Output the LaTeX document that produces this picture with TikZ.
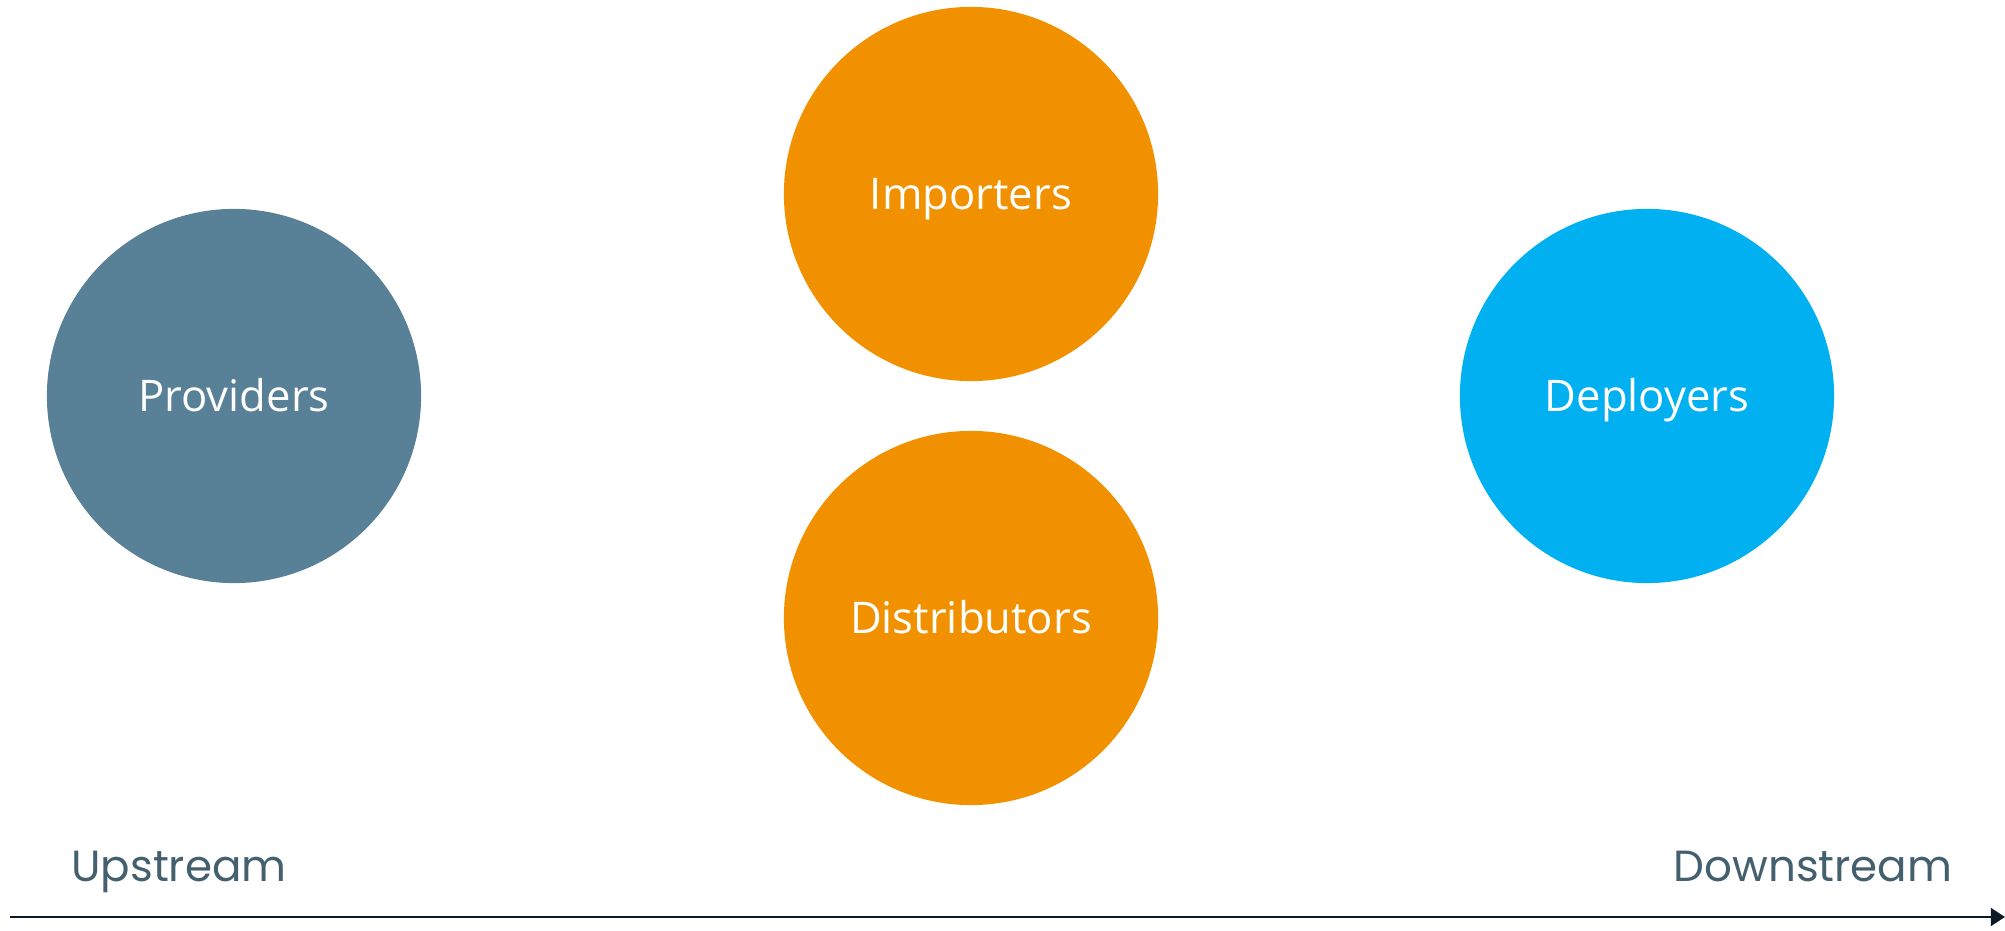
\documentclass[tikz,border=0pt]{standalone}
\usepackage{fontspec}
\setmainfont{Open Sans}
\newfontfamily\flowfont{Poppins}
\usetikzlibrary{arrows.meta}
\definecolor{provblue}{HTML}{588096}
\definecolor{midorange}{HTML}{F29100}
\definecolor{deplblue}{HTML}{00B0F0}
\definecolor{flowgrey}{HTML}{44606F}
\definecolor{axisdark}{HTML}{0B1A26}
\begin{document}
\begin{tikzpicture}[x=0.01cm,y=-0.01cm,
  actor/.style={circle, minimum size=3.74cm, inner sep=0pt, text=white,
    text height=8.9pt, text depth=0pt,
    font=\fontsize{12.4}{15}\selectfont},
  flow/.style={anchor=base, text=flowgrey, inner sep=0pt,
    font=\flowfont\fontsize{12.4}{15}\selectfont}]
\useasboundingbox (0,0) rectangle (2005,931);
\node[actor, fill=provblue] (prov) at (234,396) {Providers};
\node[actor, fill=midorange] (imp) at (971,194) {Importers};
\node[actor, fill=midorange] (dist) at (971,618) {Distributors};
\node[actor, fill=deplblue] (depl) at (1647,396) {Deployers};
\node[flow] (up) at (179,882) {Upstream};
\node[flow] (down) at (1813,882) {Downstream};
\coordinate (start) at (10,917);
\coordinate (end) at (2005,917);
\draw[axisdark, line width=0.75pt, -{Triangle[length=4pt,width=5pt]}] (start) -- (end);
\end{tikzpicture}
\end{document}
